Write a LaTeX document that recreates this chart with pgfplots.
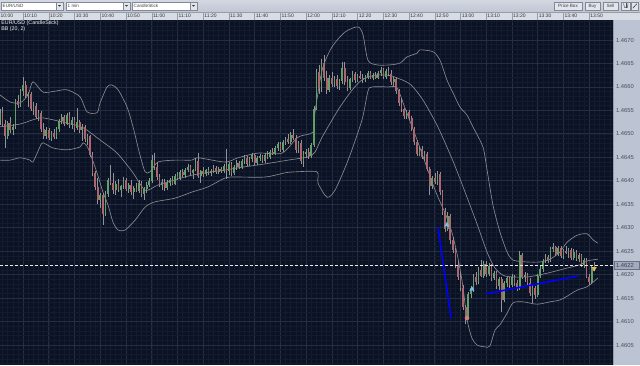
\documentclass[border=0pt]{standalone}
\usepackage{fontspec}
\setmainfont{Liberation Sans}
\usepackage{pgfplots}
\pgfplotsset{compat=1.18}
\usepackage{pgfplotstable}
\definecolor{plotbg}{RGB}{11,18,36}
\definecolor{gridmaj}{RGB}{35,45,67}
\definecolor{gridmin}{RGB}{19,27,47}
\definecolor{bbcol}{RGB}{138,138,144}
\definecolor{wick}{RGB}{146,148,154}
\definecolor{upc}{RGB}{98,160,104}
\definecolor{dnc}{RGB}{172,102,112}
\definecolor{toolbg}{RGB}{192,198,212}
\definecolor{headbg}{RGB}{216,220,228}
\definecolor{panelbg}{RGB}{188,195,210}
\definecolor{labtext}{RGB}{72,78,94}
\definecolor{sepcol}{RGB}{150,156,168}
\definecolor{ddborder}{RGB}{130,136,150}
\definecolor{btnfill}{RGB}{226,229,236}
\definecolor{ltblue}{RGB}{120,190,240}
\definecolor{pinkc}{RGB}{200,130,130}
\definecolor{orangec}{RGB}{240,185,80}
\definecolor{boxfill}{RGB}{160,170,192}
\newcommand\tbfont{\fontsize{4.6bp}{5bp}\selectfont}
\newcommand\timefont{\fontsize{5bp}{6bp}\selectfont}
\newcommand\pricefont{\fontsize{5.8bp}{6bp}\selectfont}
\newcommand\ovfont{\fontsize{5.3bp}{6bp}\selectfont}

\pgfplotstableread{
t o h l c
1 53.0 55.2 51.8 54.5
2 54.5 55.8 51.5 52.2
3 52.2 53.0 47.0 49.5
4 49.5 52.8 49.0 52.3
5 52.3 53.5 50.2 50.8
6 50.8 52.0 49.8 51.4
7 51.4 57.5 51.0 57.0
8 57.0 58.2 55.5 56.2
9 56.2 59.6 55.8 59.2
10 59.2 62.2 58.0 60.5
11 60.5 61.2 57.6 58.0
12 58.0 59.0 55.8 58.6
13 58.6 59.0 54.8 55.2
14 55.2 56.8 54.0 56.0
15 56.0 56.5 53.2 53.6
16 53.6 55.0 52.8 54.4
17 54.4 54.8 50.5 51.0
18 51.0 52.4 48.8 49.5
19 49.5 51.5 49.0 50.8
20 50.8 51.2 48.6 49.2
21 49.2 50.6 48.5 50.2
22 50.2 51.0 48.8 49.4
23 49.4 51.4 49.0 51.0
24 51.0 53.2 50.5 52.8
25 52.8 54.2 52.0 53.6
26 53.6 54.0 51.6 52.2
27 52.2 54.5 51.8 54.0
28 54.0 54.6 51.2 51.8
29 51.8 53.6 51.0 53.0
30 53.0 53.6 50.5 51.2
31 51.2 55.6 50.8 52.6
32 52.6 53.0 50.2 50.8
33 50.8 52.0 48.5 51.5
34 51.5 51.8 48.2 48.8
35 48.8 50.0 47.6 49.6
36 49.6 49.8 45.0 45.6
37 45.6 46.2 41.0 41.6
38 41.6 42.0 38.0 38.6
39 38.6 40.5 35.0 36.0
40 36.0 37.5 34.2 37.0
41 37.0 37.4 30.6 33.0
42 33.0 37.8 32.4 37.2
43 37.2 40.6 36.6 40.2
44 40.2 43.4 39.0 39.6
45 39.6 41.6 37.2 38.0
46 38.0 40.0 37.0 39.4
47 39.4 40.4 37.6 38.0
48 38.0 39.2 36.6 38.8
49 38.8 40.8 38.2 40.2
50 40.2 40.6 37.8 38.2
51 38.2 39.6 37.4 39.0
52 39.0 40.2 37.0 37.6
53 37.6 38.8 36.2 38.4
54 38.4 39.6 37.6 37.9
55 37.9 40.2 37.4 39.6
56 39.6 39.9 36.6 37.2
57 37.2 38.6 36.0 38.2
58 38.2 39.8 37.4 39.2
59 39.2 40.6 38.6 40.0
60 40.0 45.6 39.6 44.4
61 44.4 46.0 42.2 43.0
62 43.0 44.0 40.2 40.8
63 40.8 41.4 38.6 39.2
64 39.2 40.4 38.0 39.8
65 39.8 40.4 37.8 38.4
66 38.4 40.2 38.0 39.6
67 39.6 40.6 38.8 40.2
68 40.2 41.0 39.0 39.4
69 39.4 41.4 39.0 41.0
70 41.0 41.8 40.2 40.6
71 40.6 42.2 40.2 41.8
72 41.8 42.6 40.8 41.2
73 41.2 42.8 40.6 42.4
74 42.4 43.6 41.8 43.0
75 43.0 43.4 41.2 41.6
76 41.6 42.6 40.4 42.2
77 42.2 44.8 42.0 44.2
78 44.2 46.0 40.6 41.0
79 41.0 42.4 39.6 42.0
80 42.0 43.0 40.8 41.4
81 41.4 42.6 41.0 42.2
82 42.2 43.0 41.2 41.6
83 41.6 42.6 41.0 42.0
84 42.0 43.4 41.6 42.8
85 42.8 43.2 41.4 41.8
86 41.8 43.0 41.4 42.6
87 42.6 43.0 41.6 42.0
88 42.0 43.6 41.6 43.2
89 43.2 46.8 40.4 42.0
90 42.0 44.0 41.2 43.6
91 43.6 44.0 41.0 41.6
92 41.6 43.4 41.2 43.0
93 43.0 44.4 42.4 43.8
94 43.8 44.2 42.6 43.0
95 43.0 44.6 42.6 44.2
96 44.2 45.4 43.6 44.8
97 44.8 45.2 43.2 43.6
98 43.6 45.0 43.2 44.6
99 44.6 46.0 44.0 45.4
100 45.4 45.8 43.4 43.8
101 43.8 45.2 43.4 44.8
102 44.8 45.8 44.2 45.2
103 45.2 45.6 43.8 44.2
104 44.2 46.0 43.8 45.6
105 45.6 46.4 44.6 45.0
106 45.0 46.6 44.6 46.2
107 46.2 47.0 45.4 45.8
108 45.8 47.4 45.4 47.0
109 47.0 48.2 46.4 47.8
110 47.8 48.2 46.2 46.6
111 46.6 48.6 46.2 48.2
112 48.2 49.4 47.6 49.0
113 49.0 50.0 47.8 48.2
114 48.2 50.4 47.8 49.8
115 49.8 51.0 48.6 49.2
116 49.2 49.8 46.0 46.6
117 46.6 48.4 46.0 48.0
118 48.0 48.6 43.6 44.2
119 44.2 46.4 43.0 45.8
120 45.8 46.8 44.8 46.2
121 46.2 47.0 44.6 45.2
122 45.2 48.0 44.8 47.6
123 47.6 56.0 47.2 55.4
124 55.4 63.8 55.0 63.2
125 63.2 64.6 58.6 59.8
126 59.8 66.0 59.0 65.2
127 65.2 66.8 61.2 62.0
128 62.0 63.4 58.6 59.4
129 59.4 62.6 59.0 62.0
130 62.0 63.2 60.0 60.6
131 60.6 62.4 60.0 61.8
132 61.8 62.6 59.6 60.2
133 60.2 61.6 59.4 61.2
134 61.2 65.3 60.6 64.0
135 64.0 65.4 60.4 61.0
136 61.0 62.4 59.2 59.8
137 59.8 62.0 59.4 61.6
138 61.6 63.4 61.0 62.8
139 62.8 63.2 60.8 61.4
140 61.4 62.8 61.0 62.4
141 62.4 63.4 61.6 62.0
142 62.0 62.8 60.8 61.4
143 61.4 62.6 61.0 62.2
144 62.2 63.4 61.8 63.0
145 63.0 63.4 61.6 62.0
146 62.0 63.0 61.4 62.6
147 62.6 63.2 61.6 62.0
148 62.0 63.4 61.8 63.0
149 63.0 64.2 62.4 63.6
150 63.6 64.0 61.8 62.2
151 62.2 63.8 61.8 63.4
152 63.4 64.2 62.4 62.8
153 62.8 63.6 60.4 61.0
154 61.0 62.2 60.2 61.8
155 61.8 62.0 58.6 59.2
156 59.2 59.6 56.0 56.6
157 56.6 57.6 54.6 55.2
158 55.2 55.6 53.2 53.8
159 53.8 55.0 53.2 54.6
160 54.6 55.0 53.0 53.4
161 53.4 53.8 50.6 51.0
162 51.0 51.4 47.6 48.2
163 48.2 48.6 45.2 45.8
164 45.8 47.2 45.2 46.8
165 46.8 47.4 44.6 45.0
166 45.0 46.4 44.2 45.8
167 45.8 46.2 42.0 42.6
168 42.6 43.0 37.0 38.8
169 38.8 41.0 38.2 40.6
170 40.6 41.6 39.4 39.8
171 39.8 42.0 39.2 41.4
172 41.4 41.8 37.0 37.6
173 37.6 38.0 32.8 33.4
174 33.4 34.2 29.0 29.8
175 29.8 33.4 29.2 32.6
176 32.6 33.0 26.6 27.4
177 27.4 28.0 24.6 25.2
178 25.2 25.6 21.4 22.0
179 22.0 22.8 18.8 19.4
180 19.4 20.6 16.6 17.2
181 17.2 17.8 12.4 13.0
182 13.0 13.6 9.4 11.0
183 11.0 16.4 10.6 15.8
184 15.8 17.6 15.0 16.8
185 16.8 20.2 16.4 19.6
186 19.6 20.6 17.8 18.4
187 18.4 21.6 18.0 21.0
188 21.0 23.2 19.4 19.8
189 19.8 22.8 19.2 22.2
190 22.2 23.0 19.6 20.2
191 20.2 22.4 19.8 21.8
192 21.8 22.2 18.6 19.2
193 19.2 20.8 18.8 20.4
194 20.4 20.8 17.0 17.6
195 17.6 19.6 16.8 19.0
196 19.0 19.4 12.0 14.6
197 14.6 18.6 14.2 18.2
198 18.2 19.8 17.4 19.2
199 19.2 19.6 17.2 17.8
200 17.8 20.2 17.4 19.6
201 19.6 20.0 17.6 18.2
202 18.2 18.8 16.6 17.2
203 17.2 25.0 16.8 24.2
204 24.2 24.6 19.0 19.6
205 19.6 20.6 18.4 20.0
206 20.0 20.4 17.6 18.2
207 18.2 19.2 15.4 16.0
208 16.0 17.8 14.0 17.2
209 17.2 17.6 14.8 15.6
210 15.6 20.2 15.2 19.8
211 19.8 21.8 19.2 21.2
212 21.2 23.4 20.6 23.0
213 23.0 24.4 22.4 23.8
214 23.8 24.2 22.4 22.8
215 22.8 25.8 22.6 25.4
216 25.4 26.8 24.8 25.8
217 25.8 26.2 24.0 24.4
218 24.4 26.0 24.0 25.6
219 25.6 26.0 23.6 24.0
220 24.0 25.4 23.4 25.0
221 25.0 26.2 24.4 24.6
222 24.6 25.6 23.6 25.2
223 25.2 25.6 23.2 23.6
224 23.6 25.4 23.2 24.8
225 24.8 25.2 23.0 23.4
226 23.4 24.6 22.6 24.2
227 24.2 24.4 21.6 22.0
228 22.0 23.6 21.4 23.2
229 23.2 23.6 19.2 19.6
230 19.6 20.2 17.8 18.4
231 18.4 21.8 18.0 21.2
232 21.2 22.6 20.8 22.0
}\candles

\pgfplotstableread{
t p
1 58.3
4.9 56.8
8.8 56.6
11.9 58.3
13.8 61.1
17.7 58.9
22.4 59.1
27 59.4
32.1 57.9
34.8 54.7
38.7 54.5
39.9 56.6
42.6 60.0
44.5 60.4
46.9 59.4
50.4 55.7
52.7 51.5
55.4 45.5
57.4 41.9
59.3 41.9
62.4 44.0
69 44.4
75.6 44.4
78 44.9
88.5 44.0
93.5 44.9
101.3 45.9
110.6 45.9
116.8 49.3
122.7 50.4
123.4 54.5
126.2 63.6
130 68.5
135.1 71.7
140.1 72.8
142.1 71.1
144 65.7
147.5 64.7
152.6 64.7
156.5 65.1
159.2 66.4
163.1 67.2
164.2 67.9
169.3 67.5
172 65.7
174.7 61.5
177.1 58.7
179.8 55.7
182.5 54.0
184.8 51.5
188.7 47.2
190.3 42.3
192.6 34.8
195.3 29.1
198.1 24.8
200.4 23.1
205.8 22.7
210.9 22.7
214.8 23.3
218.6 24.8
221.4 26.9
225.3 28.4
229.1 28.7
231.5 27.4
233.4 26.7
}\bbup

\pgfplotstableread{
t p
1 51.5
8.8 52.1
13.8 53.0
17.7 53.4
27 52.3
33.3 51.3
39.9 48.7
46.5 45.9
52.7 41.7
57.4 38.0
62.4 39.1
69 40.2
75.6 41.2
83.4 41.9
88.5 42.3
95.1 42.9
104 43.6
112.9 44.4
120.7 45.1
123.4 46.1
126.2 49.3
132.4 55.1
137.8 59.3
141.7 61.5
146.7 62.5
151.8 62.5
154.5 62.1
160.4 60.6
165.4 57.2
170.8 51.9
174.7 47.2
177.8 43.2
182.5 36.5
186.4 30.8
190.3 24.8
193.4 21.4
197.3 19.7
205.8 19.5
213.6 20.3
221.4 21.4
226.4 22.1
229.1 22.9
233.4 23.3
}\bbmid

\pgfplotstableread{
t p
1 44.4
4.9 44.4
8.8 44.9
12.7 44.4
13.8 44.0
16.5 47.2
17.7 48.1
21.6 47.0
27 46.6
32.1 47.2
33.3 48.1
35.2 47.0
38.7 41.7
41 37.6
43 34.8
44.9 31.2
46.9 29.5
49.6 29.5
53.5 31.6
57.4 34.4
61.2 35.5
69 36.3
75.6 37.6
81.8 38.7
88.5 40.6
92.3 40.8
104 40.8
111.8 41.7
115.7 41.9
124.2 41.9
124.6 39.5
128.1 36.5
131.2 38.0
136.3 44.4
141.7 53.0
144 59.1
145.6 60.0
151.8 60.0
155.3 59.8
158.4 55.5
163.5 48.1
170.1 38.0
174 33.1
176.7 28.9
179 23.5
180.9 17.5
182.5 10.5
184.4 6.5
186.4 5.0
189.5 4.6
191.4 4.8
193.4 8.2
195.3 9.3
198.1 11.8
200.4 14.0
204.3 14.2
209.7 13.7
214.8 14.2
218.6 14.6
221.4 15.4
225.3 16.7
229.1 17.4
231.5 18.4
233.4 19.3
}\bblow

\newcommand\dropdown[3]{%
  \filldraw[fill=white, draw=ddborder, line width=0.4bp] (#1,355) rectangle (#2,363);
  \filldraw[fill=btnfill, draw=ddborder, line width=0.4bp] (#2-7,355) rectangle (#2,363);
  \fill[black!80] (#2-4.9,359.9) -- (#2-2.1,359.9) -- (#2-3.5,358.3) -- cycle;
  \node[anchor=west, inner sep=0, font=\tbfont, text=black!75] at (#1+1.5,359) {#3};
}
\newcommand\button[3]{%
  \filldraw[fill=btnfill, draw=ddborder, line width=0.4bp] (#1,355) rectangle (#2,363);
  \node[inner sep=0, font=\tbfont, text=black!75] at ({(#1+#2)/2},359) {#3};
}

\begin{document}
\begin{tikzpicture}[x=1bp,y=1bp]
% toolbar
\shade[top color=toolbg!70!white, bottom color=toolbg] (0,353) rectangle (640,365);
\dropdown{1}{63}{EUR/USD}
\dropdown{66}{130}{1 min}
\dropdown{132}{197}{CandleStick}
\button{554}{582}{Price Box}
\button{585}{600}{Buy}
\button{603}{618}{Sell}
\filldraw[fill=btnfill, draw=ddborder, line width=0.4bp] (621,355) rectangle (630,363);
\draw[black!70, line width=0.5bp] (623.5,361.5) -- (624.5,357.5) -- (627.5,357.5) -- (628,361.5);
\draw[black!70, line width=0.5bp] (625.8,361.5) -- (625.8,356.5);
\filldraw[fill=btnfill, draw=ddborder, line width=0.4bp] (631,355) rectangle (638.5,363);
\draw[black!75, line width=0.6bp] (632.8,356.8) -- (636.8,361.2);
% time header
\fill[headbg] (0,345) rectangle (640,353);
\draw[sepcol, line width=0.4bp] (0,353) -- (640,353);
\foreach \m/\lab in {0/10:00,10/10:10,20/10:20,30/10:30,40/10:40,50/10:50,60/11:00,70/11:10,80/11:20,90/11:30,100/11:40,110/11:50,120/12:00,130/12:10,140/12:20,150/12:30,160/12:40,170/12:50,180/13:00,190/13:10,200/13:20,210/13:30,220/13:40,230/13:50}{
  \pgfmathsetmacro\xx{(\m-1)*2.5729}
  \draw[sepcol, line width=0.5bp] (\xx,345) -- (\xx,353);
  \node[anchor=west, inner sep=0, font=\timefont, text=black!80] at ({max(\xx+1,0.4)},349.2) {\lab};
}
% right price panel
\fill[panelbg] (613,0) rectangle (640,345);
\draw[sepcol, line width=0.4bp] (613,0) -- (613,345);

\begin{axis}[
  at={(0,0)}, anchor=south west,
  scale only axis, width=613bp, height=345bp,
  xmin=1, xmax=239.25, ymin=0.74, ymax=74.27,
  axis background/.style={fill=plotbg},
  axis line style={draw=none},
  major tick length=0pt, minor tick length=0pt,
  xtick={10,20,...,230}, xticklabels={},
  minor xtick={2,4,...,238},
  ytick={5,10,...,70},
  minor ytick={1,2,...,74},
  yticklabel pos=right,
  yticklabels={1.4605,1.4610,1.4615,1.4620,1.4625,1.4630,1.4635,1.4640,1.4645,1.4650,1.4655,1.4660,1.4665,1.4670},
  yticklabel style={font=\pricefont, text=labtext, anchor=center, xshift=12bp},
  grid=both,
  major grid style={draw=gridmaj, line width=0.8bp},
  minor grid style={draw=gridmin, line width=0.6bp},
]
% Bollinger bands
\addplot[bbcol, line width=0.65bp, smooth, tension=0.45] table[x=t, y=p] {\bbup};
\addplot[bbcol, line width=0.65bp, smooth, tension=0.45] table[x=t, y=p] {\bbmid};
\addplot[bbcol, line width=0.65bp, smooth, tension=0.45] table[x=t, y=p] {\bblow};
% wicks
\addplot[draw=none, mark=none, error bars/.cd, y dir=both, y explicit, error mark=none,
  error bar style={draw=wick, line width=0.6bp}]
  table[x=t, y expr={(\thisrow{h}+\thisrow{l})/2}, y error expr={(\thisrow{h}-\thisrow{l})/2}] {\candles};
% up bodies
\addplot[draw=none, mark=none, error bars/.cd, y dir=both, y explicit, error mark=none,
  error bar style={draw=upc, line width=1.7bp, line cap=butt}]
  table[x=t, y expr={(\thisrow{o}+\thisrow{c})/2}, y error expr={max(\thisrow{c}-\thisrow{o},0)/2}] {\candles};
% down bodies
\addplot[draw=none, mark=none, error bars/.cd, y dir=both, y explicit, error mark=none,
  error bar style={draw=dnc, line width=1.7bp, line cap=butt}]
  table[x=t, y expr={(\thisrow{o}+\thisrow{c})/2}, y error expr={max(\thisrow{o}-\thisrow{c},0)/2}] {\candles};
% current price line
\addplot[white!85!gray, line width=0.7bp, dash pattern=on 3bp off 2bp] coordinates {(1,22) (239.25,22)};
% drawn trend lines
\addplot[blue, line width=1.6bp] coordinates {(171.2,30.1) (176.3,10.75)};
\addplot[blue, line width=1.6bp] coordinates {(189.9,15.9) (225.6,19.7)};
% signal markers
\addplot[only marks, mark=triangle*, mark size=2.6bp, color=ltblue] coordinates {(174.7,30.6) (184.4,16.9)};
\addplot[only marks, mark=*, mark size=2.1bp, color=pinkc] coordinates {(182.5,10.75)};
\addplot[only marks, mark=triangle*, mark size=2.6bp, mark options={rotate=180}, color=orangec] coordinates {(231.9,21.3)};
\end{axis}

% overlay titles
\node[anchor=north west, inner sep=0, font=\ovfont, text=white!92!gray] at (1.2,344.2) {EUR/USD (CandleStick)};
\node[anchor=north west, inner sep=0, font=\ovfont, text=white!92!gray] at (1.2,338.4) {BB (20, 2)};
% current price box
\filldraw[fill=boxfill, draw=labtext!80, line width=0.4bp] (614,96.2) rectangle (639.5,103.4);
\node[inner sep=0, font=\pricefont, text=black!75] at (625,99.8) {1.4622};

\pgfresetboundingbox
\path[use as bounding box] (0,0) rectangle (640,365);
\end{tikzpicture}
\end{document}
